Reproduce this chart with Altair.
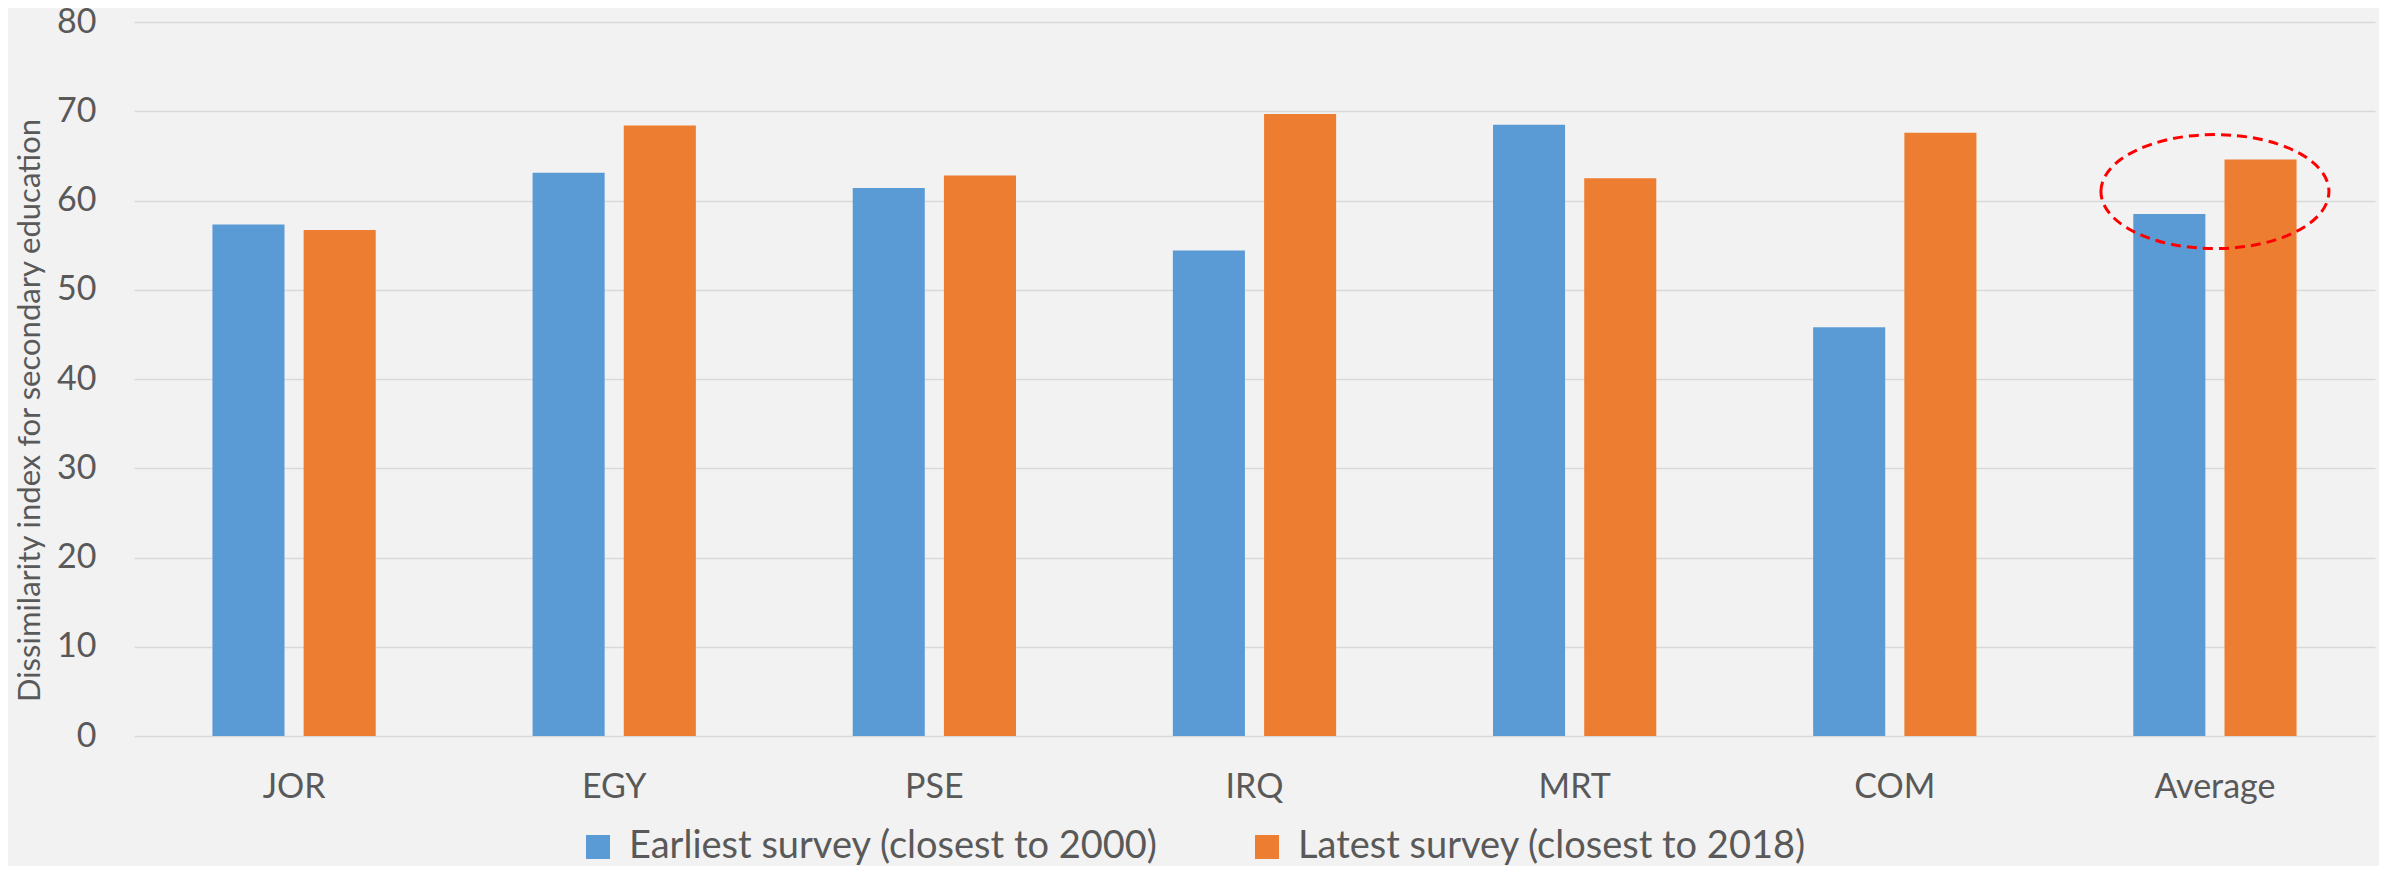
import altair as alt
import pandas as pd

categories = ["JOR", "EGY", "PSE", "IRQ", "MRT", "COM", "Average"]
earliest = [57.3, 63.1, 61.4, 54.4, 68.5, 45.8, 58.5]
latest = [56.7, 68.4, 62.8, 69.7, 62.5, 67.6, 64.6]
series = ["Earliest survey (closest to 2000)", "Latest survey (closest to 2018)"]
colors = ["#5b9bd5", "#ed7d31"]
y_ticks = [0, 10, 20, 30, 40, 50, 60, 70, 80]
y_title = "Dissimilarity index for secondary education"
highlight_category = ["Average"]
highlight_value = [61.0]

rows = []
for c, e, l in zip(categories, earliest, latest):
    rows.append({"cat": c, "series": series[0], "value": e})
    rows.append({"cat": c, "series": series[1], "value": l})
df = pd.DataFrame(rows)
ell_df = pd.DataFrame({"cat": highlight_category, "value": highlight_value})

font = "Lato"
text_color = "#595959"
grid_color = "#d9d9d9"

x_enc = alt.X(
    "cat:N",
    sort=categories,
    scale=alt.Scale(paddingInner=0.49, paddingOuter=0.245),
    axis=alt.Axis(
        title=None, labelAngle=0, labelFont=font, labelFontSize=34,
        labelColor=text_color, labelPadding=34, ticks=False, tickSize=0,
        domain=False, grid=False,
    ),
)
y_enc = alt.Y(
    "value:Q",
    scale=alt.Scale(domain=[0, 80], nice=False),
    axis=alt.Axis(
        values=y_ticks, title=y_title, grid=True, gridColor=grid_color,
        gridWidth=1.5, domain=False, ticks=False, tickSize=0,
        labelFont=font, labelFontSize=34, labelColor=text_color, labelPadding=38,
        titleFont=font, titleFontSize=31, titleFontWeight="normal",
        titleColor=text_color, titleLimit=2000,
        titleX=-104, titleY=388, titleAngle=270,
        titleAlign="center", titleBaseline="middle",
    ),
)

bars = alt.Chart(df).mark_bar().encode(
    x=x_enc,
    xOffset=alt.XOffset("series:N", sort=series,
                        scale=alt.Scale(paddingInner=0.21, paddingOuter=0)),
    y=y_enc,
    color=alt.Color(
        "series:N",
        scale=alt.Scale(domain=series, range=colors),
        legend=alt.Legend(
            title=None, orient="none", legendX=445, legendY=806,
            direction="horizontal", symbolType="square", symbolSize=576,
            symbolStrokeWidth=0, labelFont=font, labelFontSize=38,
            labelColor=text_color, labelOffset=12, columnPadding=90,
            padding=0, labelLimit=1000,
        ),
    ),
)

ellipse_path = ("M -1 0 C -1 -0.27614 -0.5523 -0.5 0 -0.5 "
                "C 0.5523 -0.5 1 -0.27614 1 0 "
                "C 1 0.27614 0.5523 0.5 0 0.5 "
                "C -0.5523 0.5 -1 0.27614 -1 0 Z")

ellipse = alt.Chart(ell_df).mark_point(
    shape=ellipse_path, size=51984, filled=False, stroke="#ff0000",
    strokeWidth=3, strokeDash=[10, 6], opacity=1,
).encode(
    x=alt.X("cat:N", sort=categories),
    y=alt.Y("value:Q"),
)

chart = alt.layer(bars, ellipse).properties(
    width=2241, height=714,
    padding={"left": 126, "top": 14, "right": 4, "bottom": 130},
    autosize=alt.AutoSizeParams(type="none"),
).configure(background="#f2f2f2").configure_view(strokeWidth=0)

chart.save("out.html", embed_options={"renderer": "svg", "actions": False})
